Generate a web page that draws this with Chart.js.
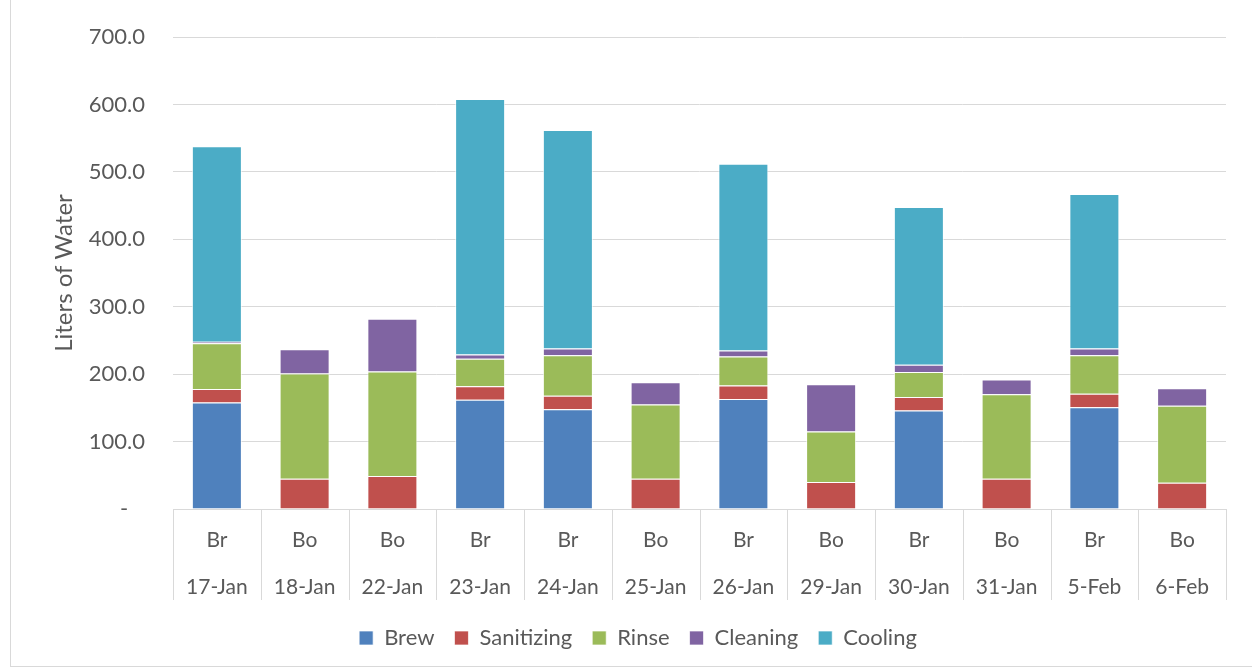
<!DOCTYPE html>
<html lang="en">
<head>
    <meta charset="UTF-8">
    <title>Water Use per Day</title>
    <script src="https://cdn.jsdelivr.net/npm/chart.js"></script>
    <style>
        body {
            margin: 0;
            background: #ffffff;
        }

        #frame {
            position: absolute;
            left: 10px;
            top: -1px;
            width: 1250px;
            height: 668px;
            border: 1px solid #d9d9d9;
            box-sizing: border-box;
        }

        #wrap {
            position: absolute;
            left: 0;
            top: 0;
            width: 1252px;
            height: 670px;
        }
    </style>
</head>
<body>
    <div id="frame"></div>
    <div id="wrap"><canvas id="waterChart"></canvas></div>

    <script>
        const batchTypes = ['Br', 'Bo', 'Bo', 'Br', 'Br', 'Bo', 'Br', 'Bo', 'Br', 'Bo', 'Br', 'Bo'];
        const dates = ['17-Jan', '18-Jan', '22-Jan', '23-Jan', '24-Jan', '25-Jan', '26-Jan', '29-Jan', '30-Jan', '31-Jan', '5-Feb', '6-Feb'];

        const brew = [158, 0, 0, 162, 148, 0, 163, 0, 146, 0, 151, 0];
        const sanitizing = [20, 45, 49, 20, 20, 45, 20, 40, 20, 45, 20, 39];
        const rinse = [68, 156, 155, 41, 60, 110, 43, 75, 37, 125, 57, 114];
        const cleaning = [2, 36, 78, 6, 10, 33, 9, 70, 11, 22, 10, 26];
        const cooling = [290, 0, 0, 379, 324, 0, 277, 0, 234, 0, 229, 0];

        const yTicks = [0, 100, 200, 300, 400, 500, 600, 700];

        const textColor = '#595959';
        const gridColor = '#d9d9d9';
        const fontFamily = 'Lato, "Open Sans", sans-serif';

        // vertical separators in the category label area
        const separatorPlugin = {
            id: 'separators',
            afterDraw(chart) {
                const xs = chart.scales.x;
                const ctx = chart.ctx;
                const n = chart.data.labels.length;
                const step = (xs.right - xs.left) / n;
                ctx.save();
                ctx.strokeStyle = gridColor;
                ctx.lineWidth = 1;
                ctx.beginPath();
                for (let i = 0; i <= n; i++) {
                    const x = Math.round(xs.left + i * step) + 0.5;
                    ctx.moveTo(x, xs.top);
                    ctx.lineTo(x, xs.top + 91);
                }
                ctx.stroke();
                ctx.restore();
            }
        };

        function makeSet(label, data, color) {
            return {
                label: label,
                data: data,
                backgroundColor: color,
                borderColor: 'rgba(255,255,255,0.7)',
                borderWidth: 1,
                categoryPercentage: 1.0,
                barPercentage: 0.57
            };
        }

        new Chart(document.getElementById('waterChart'), {
            type: 'bar',
            data: {
                labels: dates.map((d, i) => [batchTypes[i], d]),
                datasets: [
                    makeSet('Brew', brew, '#4f81bd'),
                    makeSet('Sanitizing', sanitizing, '#c0504d'),
                    makeSet('Rinse', rinse, '#9bbb59'),
                    makeSet('Cleaning', cleaning, '#8064a2'),
                    makeSet('Cooling', cooling, '#4bacc6')
                ]
            },
            options: {
                responsive: true,
                maintainAspectRatio: false,
                animation: false,
                layout: {
                    padding: { left: 50, right: 26, top: 37, bottom: 11 }
                },
                plugins: {
                    tooltip: { enabled: false },
                    legend: {
                        position: 'bottom',
                        labels: {
                            color: textColor,
                            font: { family: fontFamily, size: 22 },
                            boxWidth: 14,
                            boxHeight: 14,
                            padding: 20
                        }
                    }
                },
                scales: {
                    x: {
                        stacked: true,
                        afterFit(scale) {
                            scale.height = 98;
                        },
                        grid: { display: false, drawTicks: false },
                        border: { display: true, color: gridColor, width: 1 },
                        ticks: {
                            color: textColor,
                            font: { family: fontFamily, size: 21, lineHeight: 2.24 },
                            padding: 8,
                            maxRotation: 0,
                            autoSkip: false
                        }
                    },
                    y: {
                        stacked: true,
                        min: 0,
                        max: 700,
                        afterFit(scale) {
                            scale.width = 123;
                            scale.paddingTop = 0;
                            scale.paddingBottom = 0;
                        },
                        afterBuildTicks(scale) {
                            scale.ticks = yTicks.map(v => ({ value: v }));
                        },
                        grid: { color: gridColor, lineWidth: 1, drawTicks: false },
                        border: { display: false },
                        ticks: {
                            color: textColor,
                            font: { family: fontFamily, size: 22 },
                            padding: 28,
                            // accounting style: zero shows as a dash, set in a little
                            callback: v => v === 0 ? '-   ' : v.toFixed(1)
                        },
                        title: {
                            display: true,
                            text: 'Liters of Water',
                            color: textColor,
                            font: { family: fontFamily, size: 24 },
                            padding: { top: 0, bottom: 10 }
                        }
                    }
                }
            },
            plugins: [separatorPlugin]
        });
    </script>
</body>
</html>
